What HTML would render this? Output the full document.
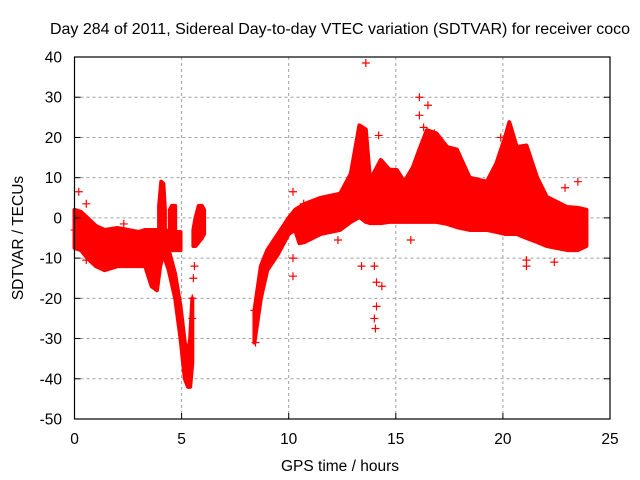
<!DOCTYPE html>
<html><head><meta charset="utf-8"><style>
body{margin:0;background:#fff;}
svg{display:block;font-family:"Liberation Sans",sans-serif;font-size:15.5px;fill:#000;}
</style></head><body>
<svg id="c" width="640" height="480">
<text x="340" y="34" text-anchor="middle" style="font-size:16px">Day 284 of 2011, Sidereal Day-to-day VTEC variation (SDTVAR) for receiver coco</text>
<text x="340" y="471" text-anchor="middle">GPS time / hours</text>
<text transform="translate(23,238) rotate(-90)" text-anchor="middle">SDTVAR / TECUs</text>
<g id="grid"></g><g id="marks"></g><g id="ticks"></g>
</svg>
<script>
const xTicks=[0,5,10,15,20,25];
const yTicks=[-50,-40,-30,-20,-10,0,10,20,30,40];
// envelope bands: time, upper, lower
const bandA_t=[0,0.3,0.6,1.0,1.4,2.0,2.5,3.0,3.3,3.6,3.85,4.0,4.2,4.5,4.95];
const bandA_hi=[2,1.5,0,-2,-3,-2.5,-3,-3.5,-3,-3,-3,-3,-3,-3.5,-3.5];
const bandA_lo=[-7.5,-8,-10,-12,-13,-12,-12,-12,-12,-17,-18,-12,-8,-8,-8];
const dip_t=[4.15,4.4,4.7,4.95,5.15,5.3,5.4,5.5];
const dip_hi=[-5,-8,-14,-22,-31,-34,-30,-20];
const dip_lo=[-9,-13,-20,-30,-40,-42,-42,-36];
const spike1_t=[3.95,4.05,4.15,4.22];
const spike1_hi=[3,9,8.5,2];
const spike1_lo=[-4,-3,-3,-4];
const spike2_t=[4.45,4.55,4.7];
const spike2_hi=[2,3,3];
const spike2_lo=[-4,-4,-4];
const bandB_t=[5.55,5.65,5.8,5.95,6.05];
const bandB_hi=[-3,0,3,3,2];
const bandB_lo=[-7,-7,-6,-5,-4];
const bandC_t=[8.4,8.7,9.0,9.5,10.0,10.3];
const bandC_hi=[-23,-12,-8,-4,0,2];
const bandC_lo=[-31,-20,-13,-9,-4,-3];
const bandD_t=[10.3,10.5,10.75,11.5,12.4,12.9,13.3,13.6,13.8,14.3,14.7,15.05,15.4,15.8,16.1,16.45,16.9,17.4,17.85,18.45,19.25,19.7,20.1,20.3,20.65,21.1,21.6,22.05,23.0,23.5,23.9];
const bandD_hi=[2,2.7,3.5,5,6,11,23,22,9.4,14.4,12,11.9,9,12.6,17,21.8,21,17.6,17,10,9,13.6,20,23.8,17.6,18,10,5.2,2.7,2.5,2];
const bandD_lo=[-3,-6.3,-6,-4,-3,-1,0.2,-1,-1.3,-1.3,-1,-1,-1,-1,-1,-1,-1,-1.5,-2.3,-3,-3,-3.5,-4,-4,-4,-5,-6,-7,-8,-8,-7];
const outT=[0.2,0.55,0.55,2.3,10.2,10.2,10.2,10.7,13.6,14.2,14.0,14.1,14.1,14.05,14.0,12.3,15.7,16.1,16.1,16.5,16.3,17.8,22.9,23.5,21.1,21.1,22.4,5.6,5.5,5.55,5.5,8.4,8.45,0.0,13.4,14.35,16.8,19.9];
const outV=[6.5,3.5,-10.5,-1.5,6.5,-10,-14.5,3.5,38.5,20.5,-12,-16,-22,-27.5,-25,-5.5,-5.5,30,25.5,28,22.5,14,7.5,9,-10.5,-12,-11,-12,-20,-15,-25,-23,-31,-3,-12,-17,21,20];
const X=t=>74.5+t*(610-74.5)/25;
const Y=v=>419-(v+50)*(419-57)/90;
const NS='http://www.w3.org/2000/svg';
const grid=document.getElementById('grid'),marks=document.getElementById('marks'),ticks=document.getElementById('ticks');
function mk(tag,attrs,parent){const e=document.createElementNS(NS,tag);for(const k in attrs)e.setAttribute(k,attrs[k]);parent.appendChild(e);return e;}
xTicks.forEach(t=>{
 if(t>0&&t<25){const g=mk('line',{x1:X(t),x2:X(t),y1:57,y2:419,stroke:'#a0a0a0','stroke-dasharray':'3,3'},grid);
 
 }
 const tk=mk('line',{x1:X(t),x2:X(t),y1:419,y2:413,stroke:'#000'},ticks);
 
 
 const tx=mk('text',{x:X(t),y:444,'text-anchor':'middle'},ticks);tx.textContent=t;
 
 
});
yTicks.forEach(v=>{
 if(v>-50&&v<40){const g=mk('line',{x1:74.5,x2:610,y1:Y(v),y2:Y(v),stroke:'#a0a0a0','stroke-dasharray':'3,3'},grid);
 
 }
 const tk=mk('line',{x1:74.5,x2:80.5,y1:Y(v),y2:Y(v),stroke:'#000'},ticks);
 
 
 const tk2=mk('line',{x1:604,x2:610,y1:Y(v),y2:Y(v),stroke:'#000'},ticks);
 
 
 const tx=mk('text',{x:62,y:Y(v)+5.5,'text-anchor':'end'},ticks);tx.textContent=v;
 
 
});
const frame=mk('rect',{x:74.5,y:57,width:535.5,height:362,fill:'none',stroke:'#000','stroke-width':1.2},ticks);


function band(t,hi,lo,name){
 let p=t.map((x,i)=>X(x)+','+Y(hi[i]));
 for(let i=t.length-1;i>=0;i--)p.push(X(t[i])+','+Y(lo[i]));
 const e=mk('polygon',{points:p.join(' '),fill:'#ff0000',stroke:'#ff0000','stroke-width':4,'stroke-linejoin':'round'},marks);
 
 
}
band(bandA_t,bandA_hi,bandA_lo,'band-early');
band(dip_t,dip_hi,dip_lo,'band-dip');
band(spike1_t,spike1_hi,spike1_lo,'band-spike-4h');
band(spike2_t,spike2_hi,spike2_lo,'band-spike-4-5h');
band(bandB_t,bandB_hi,bandB_lo,'band-6h');
band(bandC_t,bandC_hi,bandC_lo,'band-recovery');
band(bandD_t,bandD_hi,bandD_lo,'band-afternoon');
outT.forEach((t,i)=>{
 const x=X(t),y=Y(outV[i]);
 const e=mk('path',{d:`M${x-4},${y}H${x+4}M${x},${y-4}V${y+4}`,stroke:'#ff0000','stroke-width':1.2},marks);
 
 
});
</script>
</body></html>
